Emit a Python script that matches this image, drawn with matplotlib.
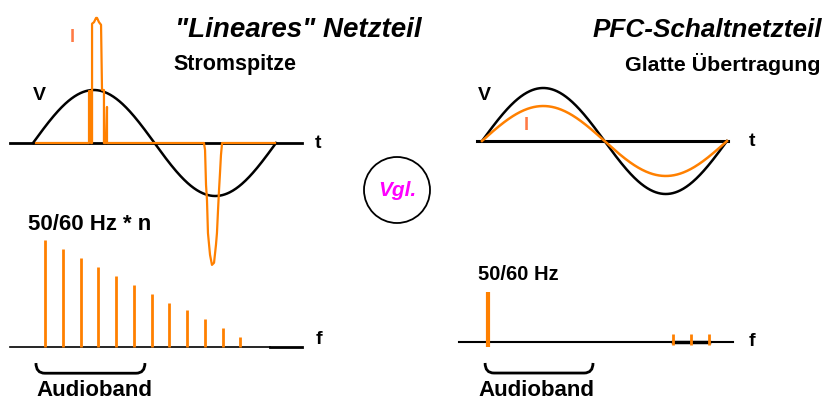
import numpy as np
import matplotlib.pyplot as plt
from matplotlib.patches import Circle, PathPatch
from matplotlib.path import Path

plt.rcParams['font.family'] = ['Liberation Sans', 'DejaVu Sans']

W, H = 830, 401
ORANGE = "#ff8000"
LABEL_ORANGE = "#ff7a45"

# --- data -------------------------------------------------------------
period_ms = 20.0
v_amp = 1.0                 # mains voltage (normalised)
pfc_i_amp = 0.66            # PFC current follows the voltage

# "linear" supply: current spikes near the voltage peak (t in ms, I normalised)
spike_t = [0.25, 4.61, 4.61, 4.77, 4.77, 4.86, 4.86, 5.02, 5.19, 5.27, 5.43, 5.60,
           5.68, 5.84, 5.84, 6.01, 6.09, 6.09, 14.07, 14.16, 14.24, 14.32, 14.40,
           14.57, 14.73, 14.90, 15.06, 15.14, 15.23, 15.31, 15.39, 15.47, 15.56, 19.92]
spike_i = [0, 0, 0.98, 0.98, 0, 0, 2.25, 2.28, 2.36, 2.36, 2.28, 2.23,
           1.0, 1.0, 0, 0, 0.68, 0, 0, -0.13, -0.79, -1.08, -1.70,
           -2.11, -2.30, -2.26, -1.92, -1.70, -1.26, -0.89, -0.57, -0.23, 0, 0]

# harmonic spectrum of the linear supply
harm_n = np.arange(1, 13)
harm_amp = [1.0, 0.92, 0.83, 0.75, 0.66, 0.58, 0.50, 0.41, 0.35, 0.26, 0.18, 0.09]

# PFC spectrum: fundamental + small switching components far away
pfc_f = [1.0]
pfc_amp = [0.47]
sw_f = [11.44, 12.45, 13.46]
sw_amp = [0.075, 0.075, 0.075]

audio_left = (0.49, 6.63)
audio_right = (0.85, 6.93)

fig = plt.figure(figsize=(W / 100, H / 100), dpi=100)
base = fig.add_axes([0, 0, 1, 1])
base.set_xlim(0, W)
base.set_ylim(H, 0)
base.axis('off')


def overlay(x0, y0, sx, sy):
    # full-figure axes whose data origin sits at pixel (x0, y0)
    a = fig.add_axes([0, 0, 1, 1])
    a.set_xlim(-x0 / sx, (W - x0) / sx)
    a.set_ylim(-(H - y0) / sy, y0 / sy)
    a.axis('off')
    a.patch.set_alpha(0)
    return a


def brace(a, x0, x1, ytop, ybot, dx):
    verts = [(x0, ytop), (x0, ybot), (x0 + dx, ybot), (x1 - dx, ybot),
             (x1, ybot), (x1, ytop)]
    codes = [Path.MOVETO, Path.CURVE3, Path.CURVE3, Path.LINETO, Path.CURVE3, Path.CURVE3]
    a.add_patch(PathPatch(Path(verts, codes), fill=False, lw=2, color='black'))


t = np.linspace(0, period_ms, 400)

# --- left: linear supply, time domain
ax1 = overlay(33, 143, 12.15, 53)
ax1.plot([-1.9, 22.1], [0, 0], color='black', lw=2)
ax1.plot(t, v_amp * np.sin(2 * np.pi * t / period_ms), color='black', lw=1.8)
ax1.plot(spike_t, spike_i, color=ORANGE, lw=1.6)

# --- left: spectrum
ax2 = overlay(27.25, 347, 17.75, 107)
ax2.plot([-0.97, 13.7], [0, 0], color='black', lw=1.2)
ax2.plot([13.7, 15.5], [0, 0], color='black', lw=2)
ax2.vlines(harm_n, 0, harm_amp, color=ORANGE, lw=2)
brace(ax2, audio_left[0], audio_left[1], -0.15, -0.245, 0.5)

# --- right: PFC, time domain
ax3 = overlay(482, 141, 12.25, 53)
ax3.plot([-0.4, 20.1], [0, 0], color='black', lw=2.2)
ax3.plot(t, v_amp * np.sin(2 * np.pi * t / period_ms), color='black', lw=1.8)
ax3.plot(t, pfc_i_amp * np.sin(2 * np.pi * t / period_ms), color=ORANGE, lw=1.8)

# --- right: spectrum
ax4 = overlay(470, 342, 17.75, 107)
ax4.plot([-0.6, 14.8], [0, 0], color='black', lw=1.5)
ax4.plot([sw_f[0], sw_f[-1]], [0, 0], color='black', lw=2.5)
ax4.vlines(pfc_f, -0.045, pfc_amp, color=ORANGE, lw=3)
ax4.vlines(sw_f, -0.028, sw_amp, color=ORANGE, lw=2)
brace(ax4, audio_right[0], audio_right[1], -0.196, -0.29, 0.5)

# --- comparison circle
base.add_patch(Circle((397, 190), 33, fill=False, lw=1.3, color='black'))
base.text(397, 191, "Vgl.", color='#ff00ff', fontsize=15, fontweight='bold',
          fontstyle='italic', ha='center', va='center')

# --- texts
bold = dict(fontweight='bold', color='black')
base.text(175, 37, '"Lineares" Netzteil', fontsize=20, fontstyle='italic', ha='left', va='baseline', **bold)
base.text(173, 70, "Stromspitze", fontsize=15.5, ha='left', va='baseline', **bold)
base.text(822, 37, "PFC-Schaltnetzteil", fontsize=18.8, fontstyle='italic', ha='right', va='baseline', **bold)
base.text(820, 71, "Glatte Übertragung", fontsize=15.4, ha='right', va='baseline', **bold)

base.text(39, 95, "V", fontsize=14, ha='center', va='center', **bold)
base.text(72, 38, "I", fontsize=13, ha='center', va='center', color=LABEL_ORANGE, fontweight='bold')
base.text(318, 143, "t", fontsize=14, ha='center', va='center', **bold)
base.text(28, 225, "50/60 Hz * n", fontsize=16, ha='left', va='center', **bold)
base.text(319, 340, "f", fontsize=14, ha='center', va='center', **bold)
base.text(36, 391, "Audioband", fontsize=16, ha='left', va='center', **bold)

base.text(484, 95, "V", fontsize=14, ha='center', va='center', **bold)
base.text(526, 126, "I", fontsize=13, ha='center', va='center', color=LABEL_ORANGE, fontweight='bold')
base.text(752, 141, "t", fontsize=14, ha='center', va='center', **bold)
base.text(478, 275, "50/60 Hz", fontsize=14.5, ha='left', va='center', **bold)
base.text(752, 341, "f", fontsize=14, ha='center', va='center', **bold)
base.text(478, 391, "Audioband", fontsize=16, ha='left', va='center', **bold)

fig.savefig("out.png", dpi=100)
